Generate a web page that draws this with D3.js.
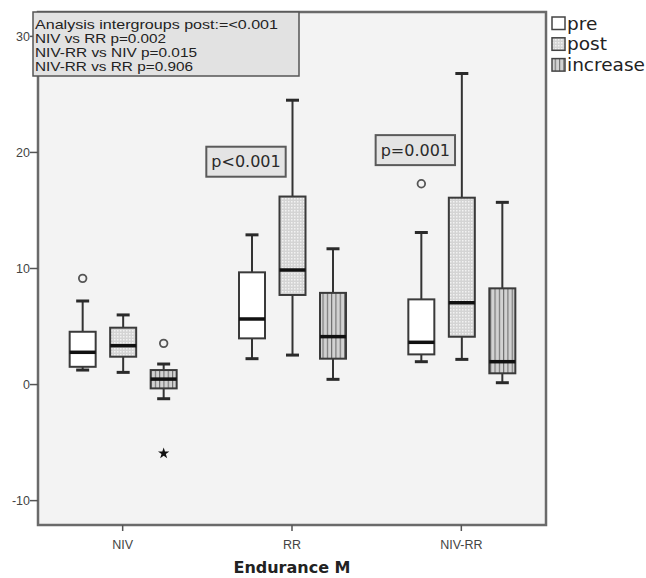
<!DOCTYPE html>
<html>
<head>
<meta charset="utf-8">
<script src="https://cdn.jsdelivr.net/npm/d3@7"></script>
<style>
  body { margin: 0; background: #fff; }
  svg { display: block; }
</style>
</head>
<body>
<div id="chart"></div>
<script>
// data: [lower whisker, Q1, median, Q3, upper whisker]
const categories = ["NIV", "RR", "NIV-RR"];
const series = ["pre", "post", "increase"];
const preStats = [[1.25, 1.53, 2.78, 4.55, 7.2], [2.23, 3.98, 5.65, 9.67, 12.9], [1.97, 2.6, 3.64, 7.34, 13.1]];
const postStats = [[1.05, 2.4, 3.35, 4.9, 6.0], [2.54, 7.72, 9.87, 16.2, 24.5], [2.17, 4.12, 7.05, 16.1, 26.8]];
const increaseStats = [[-1.22, -0.33, 0.47, 1.25, 1.77], [0.45, 2.23, 4.13, 7.9, 11.7], [0.16, 0.97, 1.97, 8.29, 15.7]];
// outliers (circle) and extremes (star): [category, series, value]
const outliers = [["NIV", "pre", 9.15], ["NIV", "increase", 3.55], ["NIV-RR", "pre", 17.3]];
const extremes = [["NIV", "increase", -5.93]];
const yTicks = [-10, 0, 10, 20, 30];
const statLines = ["Analysis intergroups post:=<0.001", "NIV vs RR p=0.002", "NIV-RR vs NIV p=0.015", "NIV-RR vs RR p=0.906"];
const pLabels = [["RR", "p<0.001", 19.2], ["NIV-RR", "p=0.001", 20.2]];

function drawBoxChart(id) {
  let width = 646, height = 578;
  let plot = {left: 38, right: 546, top: 12, bottom: 525};
  let boxWidth = 26, capWidth = 13;

  let svg = d3.select(`#${id}`).append("svg").attr("width", width).attr("height", height);

  let x = d3.scaleBand().domain(categories).range([plot.left, plot.right]);
  let xInner = d3.scalePoint().domain(series).range([-40, 41]);
  let y = d3.scaleLinear().domain([-12.1, 32.1]).range([plot.bottom, plot.top]);

  let statsBySeries = {pre: preStats, post: postStats, increase: increaseStats};
  let fills = {pre: "#ffffff", post: "url(#dots)", increase: "url(#stripes)"};

  // fill patterns
  let defs = svg.append("defs");
  let dots = defs.append("pattern").attr("id", "dots").attr("patternUnits", "userSpaceOnUse")
    .attr("width", 3).attr("height", 3);
  dots.append("rect").attr("width", 3).attr("height", 3).attr("fill", "#d4d4d4");
  dots.append("rect").attr("width", 1.5).attr("height", 1.5).attr("fill", "#f2f2f2");
  let stripes = defs.append("pattern").attr("id", "stripes").attr("patternUnits", "userSpaceOnUse")
    .attr("width", 4.3).attr("height", 4);
  stripes.append("rect").attr("width", 4.3).attr("height", 4).attr("fill", "#d2d2d2");
  stripes.append("rect").attr("width", 1.1).attr("height", 4).attr("fill", "#6e6e6e");

  // plot background + frame
  svg.append("rect")
    .attr("x", plot.left).attr("y", plot.top)
    .attr("width", plot.right - plot.left).attr("height", plot.bottom - plot.top)
    .attr("fill", "#f3f3f3").attr("stroke", "#6a6a6a").attr("stroke-width", 2.5);

  // y axis
  let yAxis = svg.append("g");
  yTicks.forEach(t => {
    yAxis.append("line").attr("x1", plot.left - 8).attr("x2", plot.left)
      .attr("y1", y(t)).attr("y2", y(t)).attr("stroke", "#555").attr("stroke-width", 1.5);
    yAxis.append("text").attr("x", plot.left - 8).attr("y", y(t)).attr("dy", "0.35em")
      .attr("text-anchor", "end").attr("font-family", "Liberation Sans, Arial, sans-serif")
      .attr("font-size", 12.5).attr("fill", "#444").text(t);
  });

  // x axis
  let xAxis = svg.append("g");
  categories.forEach(c => {
    let cx = x(c) + x.bandwidth() / 2;
    xAxis.append("line").attr("x1", cx).attr("x2", cx)
      .attr("y1", plot.bottom).attr("y2", plot.bottom + 6).attr("stroke", "#555").attr("stroke-width", 1.5);
    xAxis.append("text").attr("x", cx).attr("y", plot.bottom + 24)
      .attr("text-anchor", "middle").attr("font-family", "Liberation Sans, Arial, sans-serif")
      .attr("font-size", 12.5).attr("fill", "#444").text(c);
  });
  svg.append("text").attr("x", (plot.left + plot.right) / 2).attr("y", 573)
    .attr("text-anchor", "middle").attr("font-family", "DejaVu Sans, sans-serif")
    .attr("font-weight", "bold").attr("font-size", 16).attr("fill", "#222").text("Endurance M");

  function centerOf(cat, ser) {
    return x(cat) + x.bandwidth() / 2 + xInner(ser);
  }

  // boxes
  series.forEach(ser => {
    categories.forEach((cat, i) => {
      let s = statsBySeries[ser][i];
      let cx = centerOf(cat, ser);
      let g = svg.append("g").attr("class", `box ${ser}`);
      g.append("line").attr("x1", cx).attr("x2", cx).attr("y1", y(s[0])).attr("y2", y(s[1]))
        .attr("stroke", "#333").attr("stroke-width", 2);
      g.append("line").attr("x1", cx).attr("x2", cx).attr("y1", y(s[3])).attr("y2", y(s[4]))
        .attr("stroke", "#333").attr("stroke-width", 2);
      [s[0], s[4]].forEach(v => {
        g.append("line").attr("x1", cx - capWidth / 2).attr("x2", cx + capWidth / 2)
          .attr("y1", y(v)).attr("y2", y(v)).attr("stroke", "#2a2a2a").attr("stroke-width", 3);
      });
      g.append("rect").attr("x", cx - boxWidth / 2).attr("y", y(s[3]))
        .attr("width", boxWidth).attr("height", y(s[1]) - y(s[3]))
        .attr("fill", fills[ser]).attr("stroke", "#3a3a3a").attr("stroke-width", 2);
      g.append("line").attr("x1", cx - boxWidth / 2).attr("x2", cx + boxWidth / 2)
        .attr("y1", y(s[2])).attr("y2", y(s[2])).attr("stroke", "#111").attr("stroke-width", 3.5);
    });
  });

  outliers.forEach(o => {
    svg.append("circle").attr("cx", centerOf(o[0], o[1])).attr("cy", y(o[2])).attr("r", 3.8)
      .attr("fill", "none").attr("stroke", "#555").attr("stroke-width", 1.8);
  });
  extremes.forEach(o => {
    svg.append("path").attr("d", d3.symbol(d3.symbolStar, 40)())
      .attr("transform", `translate(${centerOf(o[0], o[1])},${y(o[2])})`).attr("fill", "#111");
  });

  // p-value labels above RR and NIV-RR groups
  pLabels.forEach(p => {
    let cx = centerOf(p[0], "pre") - 6;
    let g = svg.append("g");
    let t = g.append("text").attr("x", cx).attr("y", y(p[2])).attr("dy", "0.35em")
      .attr("text-anchor", "middle").attr("font-family", "DejaVu Sans, sans-serif")
      .attr("font-size", 16).attr("fill", "#2a2a2a").text(p[1]);
    let bb = t.node().getBBox();
    g.insert("rect", "text").attr("x", bb.x - 5).attr("y", y(p[2]) - 15)
      .attr("width", bb.width + 10).attr("height", 30)
      .attr("fill", "#e4e4e4").attr("stroke", "#5a5a5a").attr("stroke-width", 2);
  });

  // stats note box top-left
  let note = svg.append("g");
  note.append("rect").attr("x", 33).attr("y", 12).attr("width", 266).attr("height", 64)
    .attr("fill", "#e2e2e2").attr("stroke", "#555").attr("stroke-width", 1.5);
  let noteWidths = [243, 131, 162, 158];
  statLines.forEach((line, i) => {
    note.append("text").attr("x", 35).attr("y", 29 + i * 14.1)
      .attr("font-family", "Liberation Sans, Arial, sans-serif").attr("font-size", 13)
      .attr("textLength", noteWidths[i]).attr("lengthAdjust", "spacingAndGlyphs")
      .attr("fill", "#222").text(line);
  });

  // legend
  let legend = svg.append("g");
  series.forEach((ser, i) => {
    let ly = 17 + i * 20.8;
    legend.append("rect").attr("x", 552).attr("y", ly).attr("width", 13).attr("height", 12.5)
      .attr("fill", fills[ser]).attr("stroke", "#444").attr("stroke-width", 1.5);
    legend.append("text").attr("x", 567).attr("y", ly + 12.5)
      .attr("font-family", "DejaVu Sans, sans-serif").attr("font-size", 18.5)
      .attr("fill", "#222").text(ser);
  });
}

drawBoxChart("chart");
</script>
</body>
</html>
